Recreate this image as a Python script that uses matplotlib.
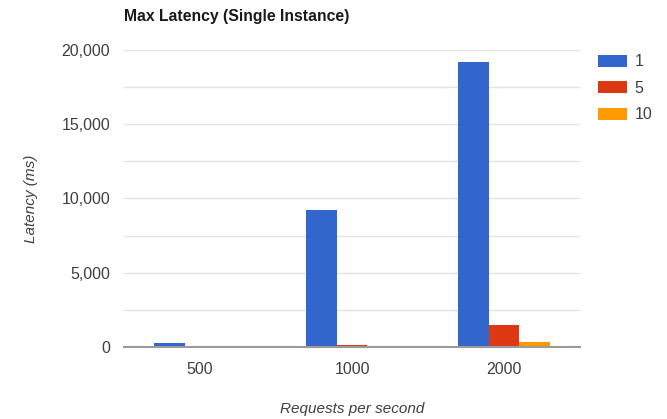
import matplotlib.pyplot as plt
import numpy as np
from matplotlib.ticker import FuncFormatter, MultipleLocator

plt.rcParams['font.family'] = ['Liberation Sans', 'DejaVu Sans']

requests = ['500', '1000', '2000']
series_names = ['1', '5', '10']
lat_1 = [300, 9200, 19200]
lat_5 = [50, 120, 1500]
lat_10 = [30, 60, 350]
colors = ['#3366cc', '#dc3912', '#ff9900']

fig = plt.figure(figsize=(6.67, 4.19), dpi=100)
ax = fig.add_axes([124 / 667, 1 - 347 / 419, 456 / 667, 297 / 419])

x = np.arange(len(requests))
width = 0.2
for i, (vals, name) in enumerate(zip([lat_1, lat_5, lat_10], series_names)):
    ax.bar(x + (i - 1) * width, vals, width, color=colors[i], label=name, zorder=3)

ax.set_xlim(-0.5, 2.5)
ax.set_ylim(0, 20000)
ax.yaxis.set_major_locator(MultipleLocator(5000))
ax.yaxis.set_minor_locator(MultipleLocator(2500))
ax.yaxis.set_major_formatter(FuncFormatter(lambda v, p: f'{int(v):,}'))
ax.grid(axis='y', which='both', color='#e3e3e3', linewidth=1, zorder=0)
ax.set_xticks(x, requests)

for s in ['top', 'right', 'left']:
    ax.spines[s].set_visible(False)
ax.spines['bottom'].set_color('#9a9a9a')
ax.spines['bottom'].set_linewidth(1.5)
ax.spines['bottom'].set_zorder(4)
ax.tick_params(axis='both', which='both', length=0, labelsize=11.5, colors='#404040')
ax.tick_params(axis='x', pad=11)
ax.tick_params(axis='y', pad=10)

ax.set_xlabel('Requests per second', fontsize=11, style='italic', color='#404040', labelpad=18)
ax.set_ylabel('Latency (ms)', fontsize=11, style='italic', color='#404040', labelpad=17)

fig.text(124 / 667, 1 - 17 / 419, 'Max Latency (Single Instance)', fontsize=11.3,
         fontweight='bold', color='#1a1a1a', va='center', ha='left')

fig.legend(loc='upper left', bbox_to_anchor=(584 / 667, 1 - 40 / 419), frameon=False,
           fontsize=11.5, handlelength=1.8, handleheight=0.75, labelspacing=0.72,
           handletextpad=0.45, labelcolor='#404040')

fig.savefig('out.png', dpi=100)
